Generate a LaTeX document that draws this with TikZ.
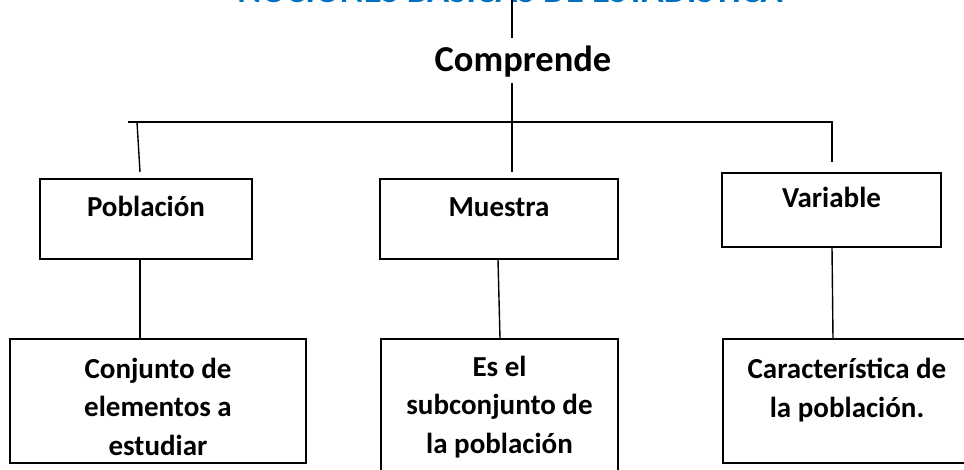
\documentclass[tikz,border=0pt]{standalone}
\usepackage{fontspec}
\setmainfont{Carlito}
\definecolor{titleblue}{RGB}{0,112,192}
\begin{document}
\begin{tikzpicture}[x=1pt,y=-1pt,
  conn/.style={draw=black,line width=1.4pt},
  box/.style={draw=black,line width=1.2pt,inner sep=0pt,rectangle},
  bigtxt/.style={font=\bfseries\fontsize{36.5}{44}\selectfont,inner sep=0pt},
  boxtxt/.style={font=\bfseries\fontsize{29}{38.5}\selectfont,align=center}]
\useasboundingbox (0,0) rectangle (964,470);
% titles
\node[bigtxt,text=titleblue,anchor=base] (title) at (510,3) {NOCIONES BÁSICAS DE ESTADÍSTICA};
\node[bigtxt,anchor=base] (comp) at (523,72) {Comprende};
% coordinates of connectors
\coordinate (t0) at (512,0);
\coordinate (t1) at (512,38);
\coordinate (c1) at (512,83);
\coordinate (c2) at (512,172);
\coordinate (bL) at (128,122);
\coordinate (bR) at (832,122);
\coordinate (dR) at (832,162);
\coordinate (l1) at (137,122);
\coordinate (l2) at (140,172);
% upper boxes
\node[box,boxtxt,minimum width=212pt,minimum height=80pt,text height=8pt,text depth=12pt] (pob) at (146,219) {Población};
\node[box,boxtxt,minimum width=238pt,minimum height=80pt,text height=8pt,text depth=12pt] (mue) at (499,219) {Muestra};
\node[box,boxtxt,minimum width=219pt,minimum height=74pt,text height=8pt,text depth=12pt] (var) at (831.5,210) {Variable};
% lower boxes
\node[box,boxtxt,minimum width=296pt,minimum height=124pt,text height=112pt,text depth=4pt] (conj) at (158,401) {Conjunto de\\elementos a\\estudiar};
\node[box,boxtxt,minimum width=237pt,minimum height=151pt,text height=87pt,text depth=10pt] (es) at (499.5,414.5) {Es el\\subconjunto de\\la población};
\node[box,boxtxt,minimum width=248pt,minimum height=124pt,text height=42pt,text depth=10pt] (car) at (847,401) {Característica de\\la población.};
% connectors
\draw[conn] (t0) -- (t1);
\draw[conn] (c1) -- (c2);
\draw[conn] (bL) -- (bR) -- (dR);
\draw[conn] (l1) -- (l2);
\draw[conn] ([xshift=-6pt]pob.south) -- ([xshift=-18pt]conj.north);
\draw[conn] ([xshift=-1pt]mue.south) -- ([xshift=0.5pt]es.north);
\draw[conn] ([xshift=0.5pt]var.south) -- ([xshift=-14pt]car.north);
\end{tikzpicture}
\end{document}
